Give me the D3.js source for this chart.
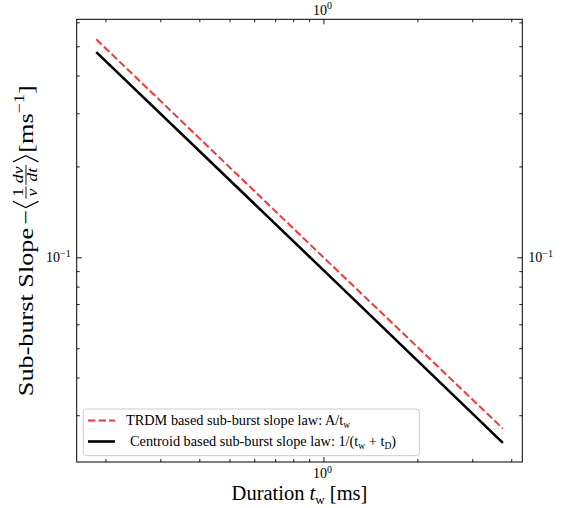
<!DOCTYPE html>
<html><head><meta charset="utf-8">
<script src="https://cdn.jsdelivr.net/npm/d3@7"></script>
<style>
html,body{margin:0;padding:0;background:#fff;}
svg{display:block;}
text{font-family:"Liberation Serif","DejaVu Serif",serif;fill:#000;}
</style></head>
<body><svg id="c" width="568" height="508"></svg>
<script>
// ---- data ----
const durations = [0.187, 1.0, 3.76];            // t_w [ms]
const trdmSlope = [0.527, 0.100, 0.0271];         // A/t_w
const centroidSlope = [0.478, 0.0907, 0.0243];    // 1/(t_w + t_D)
const xMajorTicks = [1];
const xMinorTicks = [0.2,0.3,0.4,0.5,0.6,0.7,0.8,0.9,2,3,4];
const yMajorTicks = [0.1];
const yMinorTicks = [0.03,0.04,0.05,0.06,0.07,0.08,0.09,0.2,0.3,0.4,0.5,0.6];
const xDomain = [0.1618, 4.34];
const yDomain = [0.0210, 0.614];
const legendLabels = ["TRDM based sub-burst slope law", "Centroid based sub-burst slope law"];

const svg = d3.select('#c');
const L = 76.7, R = 522.3, T = 19.3, B = 462;
const x = d3.scaleLog().domain(xDomain).range([L, R]);
const y = d3.scaleLog().domain(yDomain).range([B, T]);

// lines
const line = d3.line().x((d,i)=>x(durations[i])).y(d=>y(d));
svg.append('path').datum(trdmSlope).attr('d', line)
  .attr('fill','none').attr('stroke','#ff3333').attr('stroke-width',2)
  .attr('stroke-dasharray','7.4,3.2');
svg.append('path').datum(centroidSlope).attr('d', line)
  .attr('fill','none').attr('stroke','#000').attr('stroke-width',2.6);

// axes (ticks inward)
function styleAxis(g){ g.select('.domain').remove(); g.selectAll('line').attr('stroke','#000').attr('stroke-width',0.9); g.selectAll('text').remove(); }
const axes = [
  [d3.axisBottom(x), `translate(0,${B})`, 'x'],
  [d3.axisTop(x), `translate(0,${T})`, 'x'],
  [d3.axisLeft(y), `translate(${L},0)`, 'y'],
  [d3.axisRight(y), `translate(${R},0)`, 'y']
];
axes.forEach(([ax, tr, k])=>{
  const maj = k==='x'?xMajorTicks:yMajorTicks, mn = k==='x'?xMinorTicks:yMinorTicks;
  svg.append('g').attr('transform',tr).call(ax.tickValues(maj).tickSizeInner(-5).tickSizeOuter(0)).call(styleAxis);
  svg.append('g').attr('transform',tr).call(ax.tickValues(mn).tickSizeInner(-3).tickSizeOuter(0)).call(styleAxis);
});
svg.append('rect').attr('x',L).attr('y',T).attr('width',R-L).attr('height',B-T)
  .attr('fill','none').attr('stroke','#000').attr('stroke-width',1);

// tick labels with superscripts
function powLabel(px, py, exp, anchor){
  const t = svg.append('text').attr('x',px).attr('y',py).attr('font-size',14).attr('text-anchor',anchor);
  t.append('tspan').text('10');
  t.append('tspan').attr('dy',-5.5).attr('font-size',10).text(exp);
  return t;
}
xMajorTicks.forEach(v=>{
  powLabel(x(v)-1, B+16, '0', 'middle');
  powLabel(x(v)-1, T-4.5, '0', 'middle');
});
yMajorTicks.forEach(v=>{
  powLabel(L-6, y(v)+5, '\u22121', 'end');
  powLabel(R+6, y(v)+5, '\u22121', 'start');
});

// x title
const xt = svg.append('text').attr('x',(L+R)/2).attr('y',500).attr('font-size',20.5).attr('text-anchor','middle');
xt.append('tspan').text('Duration ');
xt.append('tspan').attr('font-style','italic').text('t');
xt.append('tspan').attr('dy',4).attr('font-size',13).text('w');
xt.append('tspan').attr('dy',-4).text(' [ms]');

// y title (rotated, built piecewise)
const F = 21.5;
const yg = svg.append('g');
const pg = yg.append('g');
let cx = 0;
function addT(str, size, italic, dy){
  const t = pg.append('text').attr('x',cx).attr('y',dy||0).attr('font-size',size).attr('font-style',italic?'italic':'normal').text(str);
  const w = t.node().getComputedTextLength(); cx += w; return w;
}
addT('Sub-burst Slope ', F);
cx += 2.5;
addT('\u2212', F);
cx += 2;
function bracket(open){
  const h1 = -19.5, h2 = 6, w = 5, mid = (h1+h2)/2;
  const p = open ? `M${cx+w},${h1} L${cx},${mid} L${cx+w},${h2}` : `M${cx},${h1} L${cx+w},${mid} L${cx},${h2}`;
  pg.append('path').attr('d',p).attr('fill','none').attr('stroke','#000').attr('stroke-width',1);
  cx += w + 2.5;
}
bracket(true);
function frac(num, den, numIt, denIt){
  const s = 14.5, axisY = -6.5;
  const tn = pg.append('text').attr('y',axisY-2.8).attr('font-size',s).attr('font-style',numIt?'italic':'normal').attr('text-anchor','middle').text(num);
  const td = pg.append('text').attr('y',axisY+11).attr('font-size',s).attr('font-style',denIt?'italic':'normal').attr('text-anchor','middle').text(den);
  const w = Math.max(tn.node().getComputedTextLength(), td.node().getComputedTextLength()) + 2.5;
  tn.attr('x', cx + w/2); td.attr('x', cx + w/2);
  pg.append('line').attr('x1',cx).attr('x2',cx+w).attr('y1',axisY).attr('y2',axisY).attr('stroke','#000').attr('stroke-width',0.9);
  cx += w + 1.5;
}
frac('1','\u03bd',false,true);
frac('d\u03bd','dt',true,true);
cx += 1;
bracket(false);
addT(' [ms', F);
addT('\u22121', 15, false, -9);
addT(']', F);
const targetLen = 311;
pg.attr('transform',`translate(${-cx/2},0)`);
yg.attr('transform',`translate(32.5,${(T+B)/2}) rotate(-90) scale(${targetLen/cx},1)`);

// legend
const lg = svg.append('g');
lg.append('rect').attr('x',83.3).attr('y',409).attr('width',336).attr('height',46.7).attr('rx',3)
  .attr('fill','#fff').attr('fill-opacity',0.8).attr('stroke','#cccccc').attr('stroke-width',1);
lg.append('line').attr('x1',88).attr('x2',115).attr('y1',420.5).attr('y2',420.5)
  .attr('stroke','#ff3333').attr('stroke-width',2).attr('stroke-dasharray','7.4,3.2');
lg.append('line').attr('x1',88).attr('x2',115).attr('y1',441.5).attr('y2',441.5)
  .attr('stroke','#000').attr('stroke-width',2.6);
const l1 = lg.append('text').attr('x',126).attr('y',425).attr('font-size',14.3);
l1.append('tspan').text(legendLabels[0] + ': A/t');
l1.append('tspan').attr('dy',3).attr('font-size',9.5).text('w');
const l2 = lg.append('text').attr('x',130).attr('y',446).attr('font-size',14.3);
l2.append('tspan').text(legendLabels[1] + ': 1/(t');
l2.append('tspan').attr('dy',3).attr('font-size',9.5).text('w');
l2.append('tspan').attr('dy',-3).text(' + t');
l2.append('tspan').attr('dy',3).attr('font-size',9.5).text('D');
l2.append('tspan').attr('dy',-3).text(')');
</script></body></html>
